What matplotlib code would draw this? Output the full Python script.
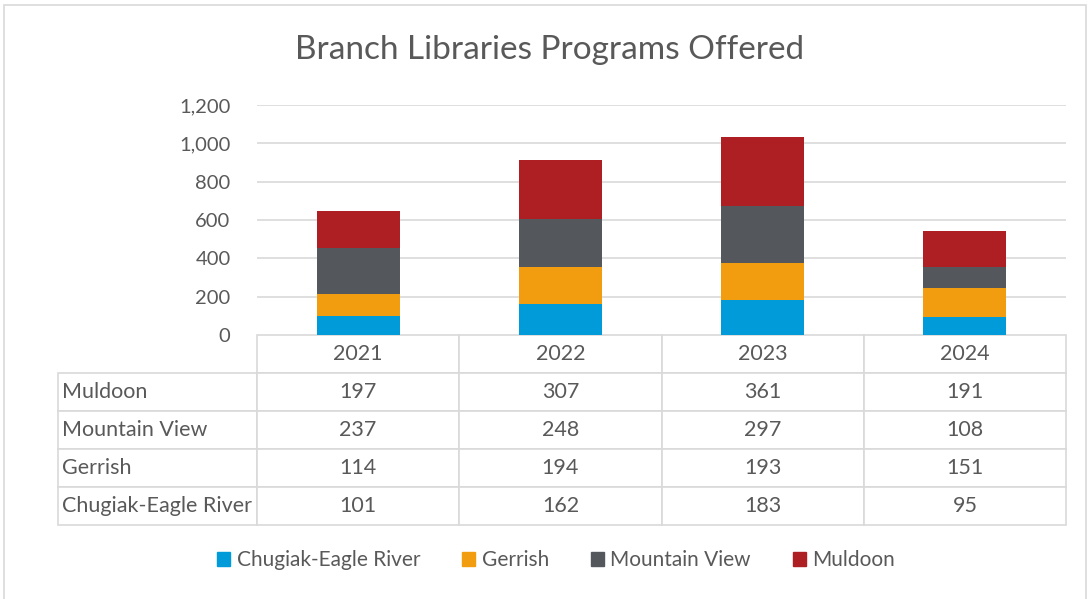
import matplotlib.pyplot as plt
import matplotlib.patches as mpatches
from matplotlib.ticker import FuncFormatter
import numpy as np

years = ['2021', '2022', '2023', '2024']
branches = ['Chugiak-Eagle River', 'Gerrish', 'Mountain View', 'Muldoon']
chugiak = [101, 162, 183, 95]
gerrish = [114, 194, 193, 151]
mountain_view = [237, 248, 297, 108]
muldoon = [197, 307, 361, 191]
colors = ['#009bd8', '#f29c0f', '#54575c', '#ae1f24']

plt.rcParams['font.family'] = ['Lato', 'DejaVu Sans']
txt = '#595959'
grid = '#d9d9d9'

W, H = 1090, 599
fig = plt.figure(figsize=(W / 100, H / 100), dpi=100)

# chart border
fig.patches.append(mpatches.Rectangle((4 / W, -0.01), 1082 / W, 1 - 5 / H + 0.01,
                                      transform=fig.transFigure, fill=False,
                                      edgecolor=grid, linewidth=1.2))

ax_w, ax_h = 809, 230
ax = fig.add_axes([257 / W, 264 / H, ax_w / W, ax_h / H])
x = np.arange(len(years))
series = [chugiak, gerrish, mountain_view, muldoon]
bottom = np.zeros(len(years))
for name, vals, c in zip(branches, series, colors):
    ax.bar(x, vals, 0.41, bottom=bottom, color=c, label=name, zorder=3)
    bottom += np.array(vals)

ax.set_xlim(-0.5, 3.5)
ax.set_ylim(0, 1200)
ax.set_yticks(range(0, 1201, 200))
ax.yaxis.set_major_formatter(FuncFormatter(lambda v, p: f'{int(v):,}'))
ax.tick_params(axis='y', length=0, labelsize=14.5, labelcolor=txt, pad=19)
ax.set_xticks([])
for s in ax.spines.values():
    s.set_visible(False)
for v in range(200, 1201, 200):
    ax.axhline(v, color=grid, linewidth=1.2, zorder=0)

fig.text(550 / W, 1 - 50 / H, 'Branch Libraries Programs Offered', ha='center',
         va='center', fontsize=24, color=txt)

# data table under the axes
cell_text = [[str(v) for v in row] for row in [muldoon, mountain_view, gerrish, chugiak]]
row_labels = ['Muldoon', 'Mountain View', 'Gerrish', 'Chugiak-Eagle River']
tbl = ax.table(cellText=cell_text, rowLabels=row_labels, colLabels=years,
               cellLoc='center', rowLoc='left', loc='bottom')
tbl.auto_set_font_size(False)
for (r, c), cell in tbl.get_celld().items():
    cell.set_edgecolor(grid)
    cell.set_linewidth(1.2)
    cell.set_height(38 / ax_h)
    cell.get_text().set_color(txt)
    cell.get_text().set_fontsize(15.5)
    if c == -1:
        cell.set_width(210 / ax_w)
        cell.PAD = 0.025
    else:
        cell.set_width(0.25)

handles = [mpatches.Patch(color=c) for c in colors]
fig.legend(handles, branches, loc='center', bbox_to_anchor=(556 / W, 1 - 560 / H),
           ncol=4, frameon=False, fontsize=15, labelcolor=txt,
           handlelength=0.65, handleheight=0.65, handletextpad=0.3, columnspacing=2.0)

fig.savefig('out.png', dpi=100)
